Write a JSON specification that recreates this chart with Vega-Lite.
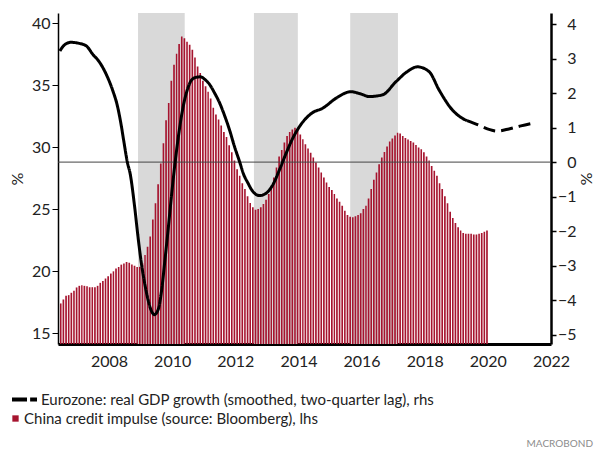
{
  "$schema": "https://vega.github.io/schema/vega-lite/v6.json",
  "width": 493,
  "height": 331,
  "autosize": "none",
  "padding": {"left": 58, "top": 13, "right": 44, "bottom": 106},
  "background": "white",
  "config": {
    "view": {"stroke": null},
    "font": "Lato",
    "axis": {"labelFont": "Lato", "titleFont": "Lato", "grid": false}
  },
  "title": {
    "text": "MACROBOND",
    "orient": "bottom",
    "anchor": "end",
    "frame": "group",
    "offset": 12,
    "dx": 42,
    "font": "Lato",
    "fontSize": 10,
    "fontWeight": "normal",
    "color": "#8c8c8c"
  },
  "datasets": {
    "shade": [
      {"start": "2008-12-02", "end": "2010-05-26"},
      {"start": "2012-08-04", "end": "2013-12-25"},
      {"start": "2015-08-23", "end": "2017-02-25"}
    ],
    "bars": [
      {"date": "2006-06-01", "v": 17.41}, {"date": "2006-07-01", "v": 17.73}, {"date": "2006-08-01", "v": 18.03}, {"date": "2006-09-01", "v": 18.08},
      {"date": "2006-10-01", "v": 18.27}, {"date": "2006-11-01", "v": 18.43}, {"date": "2006-12-01", "v": 18.7},
      {"date": "2007-01-01", "v": 18.83}, {"date": "2007-02-01", "v": 18.88}, {"date": "2007-03-01", "v": 18.83}, {"date": "2007-04-01", "v": 18.8},
      {"date": "2007-05-01", "v": 18.72}, {"date": "2007-06-01", "v": 18.72}, {"date": "2007-07-01", "v": 18.72}, {"date": "2007-08-01", "v": 18.83},
      {"date": "2007-09-01", "v": 19.07}, {"date": "2007-10-01", "v": 19.23}, {"date": "2007-11-01", "v": 19.42}, {"date": "2007-12-01", "v": 19.6},
      {"date": "2008-01-01", "v": 19.82}, {"date": "2008-02-01", "v": 20.0}, {"date": "2008-03-01", "v": 20.22}, {"date": "2008-04-01", "v": 20.35},
      {"date": "2008-05-01", "v": 20.54}, {"date": "2008-06-01", "v": 20.64}, {"date": "2008-07-01", "v": 20.75}, {"date": "2008-08-01", "v": 20.7},
      {"date": "2008-09-01", "v": 20.56}, {"date": "2008-10-01", "v": 20.45}, {"date": "2008-11-01", "v": 20.35}, {"date": "2008-12-01", "v": 20.36},
      {"date": "2009-01-01", "v": 20.66}, {"date": "2009-02-01", "v": 21.31}, {"date": "2009-03-01", "v": 21.98}, {"date": "2009-04-01", "v": 22.8},
      {"date": "2009-05-01", "v": 24.17}, {"date": "2009-06-01", "v": 25.48}, {"date": "2009-07-01", "v": 27.03}, {"date": "2009-08-01", "v": 28.69},
      {"date": "2009-09-01", "v": 30.32}, {"date": "2009-10-01", "v": 32.19}, {"date": "2009-11-01", "v": 33.58}, {"date": "2009-12-01", "v": 35.37},
      {"date": "2010-01-01", "v": 36.66}, {"date": "2010-02-01", "v": 37.54}, {"date": "2010-03-01", "v": 38.34}, {"date": "2010-04-01", "v": 38.93},
      {"date": "2010-05-01", "v": 38.8}, {"date": "2010-06-01", "v": 38.52}, {"date": "2010-07-01", "v": 38.26}, {"date": "2010-08-01", "v": 37.86},
      {"date": "2010-09-01", "v": 37.24}, {"date": "2010-10-01", "v": 36.52}, {"date": "2010-11-01", "v": 35.99}, {"date": "2010-12-01", "v": 35.37},
      {"date": "2011-01-01", "v": 34.92}, {"date": "2011-02-01", "v": 34.47}, {"date": "2011-03-01", "v": 33.93}, {"date": "2011-04-01", "v": 33.18},
      {"date": "2011-05-01", "v": 32.65}, {"date": "2011-06-01", "v": 32.25}, {"date": "2011-07-01", "v": 31.76}, {"date": "2011-08-01", "v": 31.23},
      {"date": "2011-09-01", "v": 30.83}, {"date": "2011-10-01", "v": 30.16}, {"date": "2011-11-01", "v": 29.6}, {"date": "2011-12-01", "v": 28.94},
      {"date": "2012-01-01", "v": 28.24}, {"date": "2012-02-01", "v": 27.7}, {"date": "2012-03-01", "v": 27.11}, {"date": "2012-04-01", "v": 26.63},
      {"date": "2012-05-01", "v": 26.05}, {"date": "2012-06-01", "v": 25.51}, {"date": "2012-07-01", "v": 25.16}, {"date": "2012-08-01", "v": 24.97},
      {"date": "2012-09-01", "v": 25.03}, {"date": "2012-10-01", "v": 25.16}, {"date": "2012-11-01", "v": 25.43}, {"date": "2012-12-01", "v": 25.77},
      {"date": "2013-01-01", "v": 26.23}, {"date": "2013-02-01", "v": 26.9}, {"date": "2013-03-01", "v": 27.57}, {"date": "2013-04-01", "v": 28.37},
      {"date": "2013-05-01", "v": 29.25}, {"date": "2013-06-01", "v": 29.78}, {"date": "2013-07-01", "v": 30.38}, {"date": "2013-08-01", "v": 30.91},
      {"date": "2013-09-01", "v": 31.23}, {"date": "2013-10-01", "v": 31.44}, {"date": "2013-11-01", "v": 31.58}, {"date": "2013-12-01", "v": 31.44},
      {"date": "2014-01-01", "v": 31.04}, {"date": "2014-02-01", "v": 30.64}, {"date": "2014-03-01", "v": 30.24}, {"date": "2014-04-01", "v": 29.9},
      {"date": "2014-05-01", "v": 29.57}, {"date": "2014-06-01", "v": 29.17}, {"date": "2014-07-01", "v": 28.77}, {"date": "2014-08-01", "v": 28.37},
      {"date": "2014-09-01", "v": 27.97}, {"date": "2014-10-01", "v": 27.57}, {"date": "2014-11-01", "v": 27.17}, {"date": "2014-12-01", "v": 26.8},
      {"date": "2015-01-01", "v": 26.55}, {"date": "2015-02-01", "v": 26.24}, {"date": "2015-03-01", "v": 25.87}, {"date": "2015-04-01", "v": 25.61},
      {"date": "2015-05-01", "v": 25.29}, {"date": "2015-06-01", "v": 24.89}, {"date": "2015-07-01", "v": 24.55}, {"date": "2015-08-01", "v": 24.41},
      {"date": "2015-09-01", "v": 24.36}, {"date": "2015-10-01", "v": 24.44}, {"date": "2015-11-01", "v": 24.55}, {"date": "2015-12-01", "v": 24.68},
      {"date": "2016-01-01", "v": 25.03}, {"date": "2016-02-01", "v": 25.29}, {"date": "2016-03-01", "v": 25.88}, {"date": "2016-04-01", "v": 26.63},
      {"date": "2016-05-01", "v": 27.38}, {"date": "2016-06-01", "v": 27.97}, {"date": "2016-07-01", "v": 28.64}, {"date": "2016-08-01", "v": 29.17},
      {"date": "2016-09-01", "v": 29.62}, {"date": "2016-10-01", "v": 30.06}, {"date": "2016-11-01", "v": 30.46}, {"date": "2016-12-01", "v": 30.72},
      {"date": "2017-01-01", "v": 30.96}, {"date": "2017-02-01", "v": 31.18}, {"date": "2017-03-01", "v": 31.12}, {"date": "2017-04-01", "v": 30.91},
      {"date": "2017-05-01", "v": 30.75}, {"date": "2017-06-01", "v": 30.62}, {"date": "2017-07-01", "v": 30.51}, {"date": "2017-08-01", "v": 30.38},
      {"date": "2017-09-01", "v": 30.19}, {"date": "2017-10-01", "v": 29.98}, {"date": "2017-11-01", "v": 29.84}, {"date": "2017-12-01", "v": 29.6},
      {"date": "2018-01-01", "v": 29.26}, {"date": "2018-02-01", "v": 28.93}, {"date": "2018-03-01", "v": 28.5}, {"date": "2018-04-01", "v": 28.1},
      {"date": "2018-05-01", "v": 27.7}, {"date": "2018-06-01", "v": 27.11}, {"date": "2018-07-01", "v": 26.63}, {"date": "2018-08-01", "v": 26.05},
      {"date": "2018-09-01", "v": 25.49}, {"date": "2018-10-01", "v": 24.81}, {"date": "2018-11-01", "v": 24.3}, {"date": "2018-12-01", "v": 23.9},
      {"date": "2019-01-01", "v": 23.56}, {"date": "2019-02-01", "v": 23.29}, {"date": "2019-03-01", "v": 23.1}, {"date": "2019-04-01", "v": 23.02},
      {"date": "2019-05-01", "v": 23.02}, {"date": "2019-06-01", "v": 23.02}, {"date": "2019-07-01", "v": 22.97}, {"date": "2019-08-01", "v": 22.97},
      {"date": "2019-09-01", "v": 23.02}, {"date": "2019-10-01", "v": 23.1}, {"date": "2019-11-01", "v": 23.2}, {"date": "2019-12-01", "v": 23.3}
    ],
    "gdp": [
      {"date": "2006-06-12", "v": 3.22, "part": "actual"},
      {"date": "2006-08-01", "v": 3.39, "part": "actual"},
      {"date": "2006-10-17", "v": 3.47, "part": "actual"},
      {"date": "2007-01-21", "v": 3.44, "part": "actual"},
      {"date": "2007-04-17", "v": 3.36, "part": "actual"},
      {"date": "2007-06-25", "v": 3.13, "part": "actual"},
      {"date": "2007-09-09", "v": 2.91, "part": "actual"},
      {"date": "2007-11-25", "v": 2.57, "part": "actual"},
      {"date": "2008-02-11", "v": 2.09, "part": "actual"},
      {"date": "2008-04-09", "v": 1.61, "part": "actual"},
      {"date": "2008-05-17", "v": 1.13, "part": "actual"},
      {"date": "2008-06-24", "v": 0.55, "part": "actual"},
      {"date": "2008-07-31", "v": 0.0, "part": "actual"},
      {"date": "2008-09-03", "v": -0.35, "part": "actual"},
      {"date": "2008-10-23", "v": -1.28, "part": "actual"},
      {"date": "2008-12-01", "v": -2.15, "part": "actual"},
      {"date": "2009-01-09", "v": -2.92, "part": "actual"},
      {"date": "2009-02-16", "v": -3.5, "part": "actual"},
      {"date": "2009-03-27", "v": -3.98, "part": "actual"},
      {"date": "2009-05-04", "v": -4.3, "part": "actual"},
      {"date": "2009-06-08", "v": -4.42, "part": "actual"},
      {"date": "2009-07-26", "v": -4.25, "part": "actual"},
      {"date": "2009-09-02", "v": -3.69, "part": "actual"},
      {"date": "2009-10-10", "v": -2.82, "part": "actual"},
      {"date": "2009-11-19", "v": -1.86, "part": "actual"},
      {"date": "2009-12-27", "v": -0.9, "part": "actual"},
      {"date": "2010-02-03", "v": -0.03, "part": "actual"},
      {"date": "2010-03-14", "v": 0.74, "part": "actual"},
      {"date": "2010-04-21", "v": 1.37, "part": "actual"},
      {"date": "2010-05-29", "v": 1.85, "part": "actual"},
      {"date": "2010-07-07", "v": 2.18, "part": "actual"},
      {"date": "2010-08-14", "v": 2.38, "part": "actual"},
      {"date": "2010-10-11", "v": 2.46, "part": "actual"},
      {"date": "2010-11-26", "v": 2.47, "part": "actual"},
      {"date": "2011-01-12", "v": 2.4, "part": "actual"},
      {"date": "2011-03-10", "v": 2.25, "part": "actual"},
      {"date": "2011-05-07", "v": 2.0, "part": "actual"},
      {"date": "2011-07-03", "v": 1.72, "part": "actual"},
      {"date": "2011-08-30", "v": 1.35, "part": "actual"},
      {"date": "2011-10-27", "v": 0.93, "part": "actual"},
      {"date": "2011-12-23", "v": 0.45, "part": "actual"},
      {"date": "2012-02-19", "v": 0.02, "part": "actual"},
      {"date": "2012-04-06", "v": -0.35, "part": "actual"},
      {"date": "2012-05-25", "v": -0.6, "part": "actual"},
      {"date": "2012-07-22", "v": -0.85, "part": "actual"},
      {"date": "2012-10-08", "v": -0.97, "part": "actual"},
      {"date": "2012-12-24", "v": -0.9, "part": "actual"},
      {"date": "2013-03-10", "v": -0.66, "part": "actual"},
      {"date": "2013-05-27", "v": -0.22, "part": "actual"},
      {"date": "2013-08-12", "v": 0.26, "part": "actual"},
      {"date": "2013-10-27", "v": 0.69, "part": "actual"},
      {"date": "2014-01-13", "v": 1.03, "part": "actual"},
      {"date": "2014-03-30", "v": 1.27, "part": "actual"},
      {"date": "2014-06-11", "v": 1.43, "part": "actual"},
      {"date": "2014-10-08", "v": 1.56, "part": "actual"},
      {"date": "2015-03-11", "v": 1.85, "part": "actual"},
      {"date": "2015-08-31", "v": 2.04, "part": "actual"},
      {"date": "2015-12-17", "v": 1.98, "part": "actual"},
      {"date": "2016-03-30", "v": 1.9, "part": "actual"},
      {"date": "2016-08-31", "v": 1.95, "part": "actual"},
      {"date": "2017-02-02", "v": 2.33, "part": "actual"},
      {"date": "2017-06-12", "v": 2.62, "part": "actual"},
      {"date": "2017-10-09", "v": 2.76, "part": "actual"},
      {"date": "2018-02-21", "v": 2.62, "part": "actual"},
      {"date": "2018-06-16", "v": 2.09, "part": "actual"},
      {"date": "2018-11-17", "v": 1.51, "part": "actual"},
      {"date": "2019-03-12", "v": 1.27, "part": "actual"},
      {"date": "2019-05-05", "v": 1.2, "part": "actual"},
      {"date": "2019-05-05", "v": 1.2, "part": "forecast"},
      {"date": "2019-09-20", "v": 1.07, "part": "forecast"},
      {"date": "2020-01-14", "v": 0.95, "part": "forecast"},
      {"date": "2020-04-15", "v": 0.9, "part": "forecast"},
      {"date": "2020-09-01", "v": 0.96, "part": "forecast"},
      {"date": "2021-01-18", "v": 1.05, "part": "forecast"},
      {"date": "2021-05-25", "v": 1.12, "part": "forecast"}
    ]
  },
  "layer": [
    {
      "data": {"name": "shade"},
      "mark": {"type": "rect", "color": "#d9d9d9"},
      "encoding": {
        "x": {
          "field": "start",
          "type": "temporal",
          "scale": {
            "type": "utc",
            "domain": [
              {"year": 2006, "month": 5, "date": 21, "utc": true},
              {"year": 2022, "month": 1, "date": 1, "utc": true}
            ]
          },
          "axis": {
            "title": null,
            "format": "%Y",
            "domainWidth": 3,
            "domainColor": "#000",
            "ticks": false,
            "labelPadding": 9,
            "labelFontSize": 16,
            "labelColor": "#222",
            "tickCount": {"interval": "year", "step": 2},
            "labelFlush": false,
            "labelOverlap": false
          }
        },
        "x2": {"field": "end"}
      }
    },
    {
      "data": {"name": "bars"},
      "mark": {"type": "bar", "timeUnitBandSize": 0.78, "clip": true},
      "encoding": {
        "x": {"field": "date", "timeUnit": "utcyearmonth", "type": "temporal"},
        "y": {
          "field": "v",
          "type": "quantitative",
          "scale": {"domain": [14.14, 40.83], "zero": false, "nice": false},
          "axis": {
            "orient": "left",
            "title": "%",
            "titleFontSize": 16,
            "titleFontWeight": "normal",
            "titleColor": "#222",
            "titlePadding": 6,
            "values": [15, 20, 25, 30, 35, 40],
            "labelOverlap": false,
            "domainColor": "#000",
            "domainWidth": 1.5,
            "tickColor": "#000",
            "tickSize": 6,
            "tickWidth": 1,
            "labelPadding": 2,
            "labelFontSize": 16,
            "labelColor": "#222"
          }
        },
        "color": {
          "datum": "China credit impulse (source: Bloomberg), lhs",
          "type": "nominal",
          "scale": {"range": ["#a6142f"]},
          "legend": {
            "orient": "none",
            "legendX": -50,
            "legendY": 398,
            "title": null,
            "padding": 0,
            "symbolType": "square",
            "symbolSize": 40,
            "symbolStrokeWidth": 0,
            "labelOffset": 1,
            "labelFont": "Lato",
            "labelFontSize": 15,
            "labelColor": "#222",
            "labelLimit": 600
          }
        }
      }
    },
    {
      "layer": [
        {
          "data": {"values": [{"v": 0}]},
          "mark": {"type": "rule", "color": "#444", "strokeWidth": 1},
          "encoding": {
            "y": {
              "field": "v",
              "type": "quantitative",
              "axis": {
                "orient": "right",
                "title": "%",
                "titleFontSize": 16,
                "titleFontWeight": "normal",
                "titleColor": "#222",
                "titlePadding": 1,
                "values": [-5, -4, -3, -2, -1, 0, 1, 2, 3, 4],
                "labelOverlap": false,
                "domainColor": "#000",
                "domainWidth": 2.5,
                "tickColor": "#000",
                "tickSize": 5,
                "tickWidth": 1.5,
                "labelAlign": "right",
                "labelPadding": 20,
                "labelFontSize": 16,
                "labelColor": "#222"
              }
            }
          }
        },
        {
          "data": {"name": "gdp"},
          "mark": {"type": "line", "strokeWidth": 3, "interpolate": "monotone", "strokeCap": "butt"},
          "encoding": {
            "x": {"field": "date", "type": "temporal"},
            "y": {
              "field": "v",
              "type": "quantitative",
              "scale": {"domain": [-5.27, 4.32], "zero": false, "nice": false},
              "axis": {
                "orient": "right",
                "title": "%",
                "titleFontSize": 16,
                "titleFontWeight": "normal",
                "titleColor": "#222",
                "titlePadding": 1,
                "values": [-5, -4, -3, -2, -1, 0, 1, 2, 3, 4],
                "labelOverlap": false,
                "domainColor": "#000",
                "domainWidth": 2.5,
                "tickColor": "#000",
                "tickSize": 5,
                "tickWidth": 1.5,
                "labelAlign": "right",
                "labelPadding": 20,
                "labelFontSize": 16,
                "labelColor": "#222"
              }
            },
            "stroke": {
              "datum": "Eurozone: real GDP growth (smoothed, two-quarter lag), rhs",
              "type": "nominal",
              "scale": {"range": ["#000"]},
              "legend": {
                "orient": "none",
                "legendX": -48,
                "legendY": 372,
                "title": null,
                "padding": 0,
                "symbolType": "M-1,0H0.2M0.45,0H1",
                "symbolSize": 625,
                "symbolStrokeWidth": 4,
                "symbolStrokeColor": "#000",
                "labelOffset": 2,
                "labelFont": "Lato",
                "labelFontSize": 15,
                "labelColor": "#222",
                "labelLimit": 600
              }
            },
            "strokeDash": {
              "field": "part",
              "type": "nominal",
              "scale": {"domain": ["actual", "forecast"], "range": [[1, 0], [12, 6]]},
              "legend": null
            }
          }
        }
      ]
    }
  ],
  "resolve": {"scale": {"y": "independent"}}
}
